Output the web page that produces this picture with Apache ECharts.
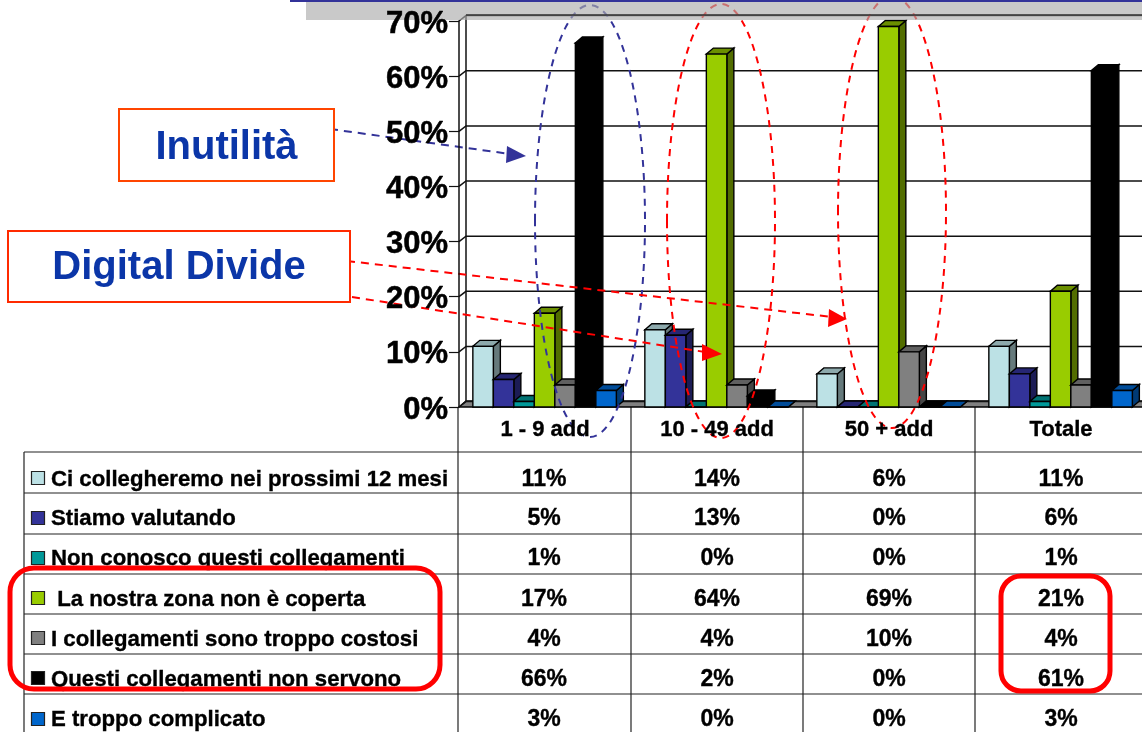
<!DOCTYPE html>
<html><head><meta charset="utf-8">
<style>html,body{margin:0;padding:0;background:#fff}#c{width:1142px;height:732px}</style>
<script src="https://cdn.jsdelivr.net/npm/echarts@6/dist/echarts.min.js"></script>
</head><body><div id="c"></div>
<script>
const categories = ['1 - 9 add', '10 - 49 add', '50 + add', 'Totale'];
const yTicks = [0, 10, 20, 30, 40, 50, 60, 70];
const legendLabels = ['Ci collegheremo nei prossimi 12 mesi', 'Stiamo valutando', 'Non conosco questi collegamenti', ' La nostra zona non è coperta', 'I collegamenti sono troppo costosi', 'Questi collegamenti non servono', 'E troppo complicato'];
const colleghi = [11, 14, 6, 11];
const valutando = [5, 13, 0, 6];
const nonConosco = [1, 0, 0, 1];
const nonCoperta = [17, 64, 69, 21];
const costosi = [4, 4, 10, 4];
const nonServono = [66, 2, 0, 61];
const complicato = [3, 0, 0, 3];
const allValues = [colleghi, valutando, nonConosco, nonCoperta, costosi, nonServono, complicato];
const frontC = ['#BCE1E5', '#333399', '#009999', '#99CC00', '#808080', '#000000', '#0066CC'];
const topC = ['#8DA9AC', '#262673', '#007373', '#6B8F00', '#606060', '#000000', '#004C99'];
const sideC = ['#667A7C', '#1C1C55', '#005353', '#526D00', '#454545', '#000000', '#003A75'];

const DX = 7, DY = 6, WALL_DY = 5.4, BAR = 20.5, FONT = '"Liberation Sans", Arial, sans-serif';
const poly = (pts, fill, lw) => ({ type: 'polygon', shape: { points: pts }, style: { fill, stroke: '#000', lineWidth: lw === undefined ? 1.4 : lw } });

function barItem(idx) {
  return function (p, api) {
    const c = api.coord([api.value(0), api.value(1)]);
    const base = api.coord([api.value(0), 0]);
    const x0 = c[0] - 3.5 * BAR + idx * BAR - 0.4, x1 = x0 + BAR, yT = c[1], yB = base[1];
    return { type: 'group', children: [
      poly([[x1, yT], [x1 + DX, yT - DY], [x1 + DX, yB - DY], [x1, yB]], sideC[idx]),
      poly([[x0, yT], [x0 + DX, yT - DY], [x1 + DX, yT - DY], [x1, yT]], topC[idx]),
      poly([[x0, yT], [x1, yT], [x1, yB], [x0, yB]], frontC[idx])
    ]};
  };
}
function wallItem(p, api) {
  const c = api.coord([0, api.value(1)]);
  const xL = c[0] - 86, y = c[1], xR = xL + 700;
  const kids = [{ type: 'polyline', shape: { points: [[xL, y], [xL + DX, y - WALL_DY], [xR, y - WALL_DY]] }, style: { fill: null, stroke: '#111', lineWidth: 1.5 } }];
  if (api.value(1) === 0) {
    kids.unshift(poly([[xL, y], [xL + DX, y - DY], [xR + DX, y - DY], [xR, y]], '#808080'));
    const top = api.coord([0, yTicks[yTicks.length - 1]]);
    kids.push({ type: 'line', shape: { x1: xL + DX, y1: y - DY, x2: xL + DX, y2: top[1] - DY }, style: { stroke: '#111', lineWidth: 1.5 } });
  }
  return { type: 'group', children: kids };
}

const rowY = [452, 493, 534, 574, 614, 654, 694];
const colX = [458, 631, 803, 975];
const colC = [544, 717, 889, 1061];
const swatchY = [478, 518, 558, 598, 638, 678, 719];
const textY = [480, 519, 559, 600, 640, 680, 720];
const g = [];
const ln = (x1, y1, x2, y2, stroke, lineWidth, z, dash) => ({ type: 'line', z, shape: { x1, y1, x2, y2 }, style: { stroke, lineWidth, lineDash: dash || null } });
const txt = (x, y, text, size, fill, align, z, sw) => ({ type: 'text', z, x, y, style: { text, fill, stroke: sw ? fill : null, lineWidth: sw || 0, font: 'bold ' + size + 'px ' + FONT, align: align || 'left', verticalAlign: 'middle' } });
rowY.forEach(y => g.push(ln(24, y, 1142, y, '#222', 1.2, 1)));
g.push(ln(24, 452, 24, 732, '#222', 1.2, 1));
colX.forEach(x => g.push(ln(x, 407, x, 732, '#222', 1.2, 1)));
legendLabels.forEach((t, i) => {
  g.push({ type: 'rect', z: 1, shape: { x: 31.5, y: swatchY[i] - 6.5, width: 13, height: 13 }, style: { fill: frontC[i], stroke: '#222', lineWidth: 1.2 } });
  g.push(txt(51, textY[i], t, 22.2, '#000', 'left', 1, 0.35));
  allValues[i].forEach((v, j) => g.push(txt(colC[j], textY[i], v + '%', 23, '#000', 'center', 1, 0.35)));
});
// dashed ellipses
g.push({ type: 'ellipse', z: 3, shape: { cx: 590, cy: 221, rx: 55, ry: 216 }, style: { fill: null, stroke: '#333399', lineWidth: 2, lineDash: [7, 6] } });
g.push({ type: 'ellipse', z: 3, shape: { cx: 721, cy: 221, rx: 54, ry: 217 }, style: { fill: null, stroke: '#FF0000', lineWidth: 2, lineDash: [7, 6] } });
g.push({ type: 'ellipse', z: 3, shape: { cx: 892, cy: 212, rx: 54, ry: 216 }, style: { fill: null, stroke: '#FF0000', lineWidth: 2, lineDash: [7, 6] } });
// arrows
g.push(ln(330, 129, 510, 154, '#333399', 2, 3, [8, 6]));
g.push({ type: 'polygon', z: 3, shape: { points: [[507, 146], [506, 163], [526, 156]] }, style: { fill: '#333399' } });
g.push(ln(347, 261, 832, 317, '#FF0000', 2, 3, [8, 6]));
g.push({ type: 'polygon', z: 3, shape: { points: [[829, 309], [828, 327], [847, 319]] }, style: { fill: '#FF0000' } });
g.push(ln(352, 297, 705, 352, '#FF0000', 2, 3, [8, 6]));
g.push({ type: 'polygon', z: 3, shape: { points: [[702, 344], [702, 361], [722, 354]] }, style: { fill: '#FF0000' } });
// top band
g.push({ type: 'rect', z: 4, shape: { x: 306, y: 0, width: 836, height: 20 }, style: { fill: '#ACACAC', opacity: 0.65 } });
g.push({ type: 'rect', z: 4, shape: { x: 290, y: 0, width: 852, height: 2 }, style: { fill: '#333399' } });
// callouts
g.push({ type: 'rect', z: 5, shape: { x: 119, y: 109, width: 215, height: 72 }, style: { fill: '#fff', stroke: '#FF4500', lineWidth: 2 } });
g.push(txt(226.5, 148, 'Inutilità', 40, '#0B36A8', 'center', 6));
g.push({ type: 'rect', z: 5, shape: { x: 8, y: 231, width: 342, height: 71 }, style: { fill: '#fff', stroke: '#FF2A00', lineWidth: 2 } });
g.push(txt(179, 268, 'Digital Divide', 40, '#0B36A8', 'center', 6));
// highlight boxes
g.push({ type: 'rect', z: 6, shape: { x: 10, y: 568, width: 430, height: 121, r: 24 }, style: { fill: null, stroke: '#FF0000', lineWidth: 5 } });
g.push({ type: 'rect', z: 6, shape: { x: 1001, y: 576, width: 109, height: 115, r: 20 }, style: { fill: null, stroke: '#FF0000', lineWidth: 5 } });

const series = [
  { type: 'custom', z: 1, silent: true, renderItem: wallItem, data: yTicks.map(t => [0, t]) },
  { type: 'custom', z: 5, silent: true, renderItem: (p, api) => {
      const c = api.coord([0, api.value(1)]);
      return { type: 'line', shape: { x1: c[0] - 86 + DX, y1: c[1] - DY, x2: 1142, y2: c[1] - DY }, style: { stroke: '#333', lineWidth: 1.5 } };
    }, data: [[0, yTicks[yTicks.length - 1]]] }
];
allValues.forEach((vals, i) => series.push({
  type: 'custom', z: 2, silent: true, renderItem: barItem(i), data: vals.map((v, j) => [j, v])
}));

const chart = echarts.init(document.getElementById('c'));
chart.setOption({
  animation: false,
  backgroundColor: '#fff',
  tooltip: { show: false },
  legend: { show: false },
  grid: { left: 459, top: 21, width: 688, height: 386, outerBoundsMode: 'none' },
  xAxis: {
    type: 'category', data: categories, z: 7,
    axisLine: { show: false },
    axisTick: { show: false },
    axisLabel: { color: '#000', fontFamily: FONT, fontWeight: 'bold', fontSize: 22, margin: 12, hideOverlap: false, textBorderColor: '#000', textBorderWidth: 0.35 }
  },
  yAxis: {
    type: 'value', min: 0, max: 70, interval: 10, z: 7,
    splitLine: { show: false },
    axisLine: { show: true, lineStyle: { color: '#111', width: 1.5 } },
    axisTick: { show: true, length: 10, lineStyle: { color: '#111', width: 1.2 } },
    axisLabel: { formatter: '{value}%', color: '#000', fontFamily: FONT, fontWeight: 'bold', fontSize: 31, margin: 11, verticalAlign: 'top', lineHeight: 6, textBorderColor: '#000', textBorderWidth: 0.5 }
  },
  series,
  graphic: { elements: g }
});
</script></body></html>
